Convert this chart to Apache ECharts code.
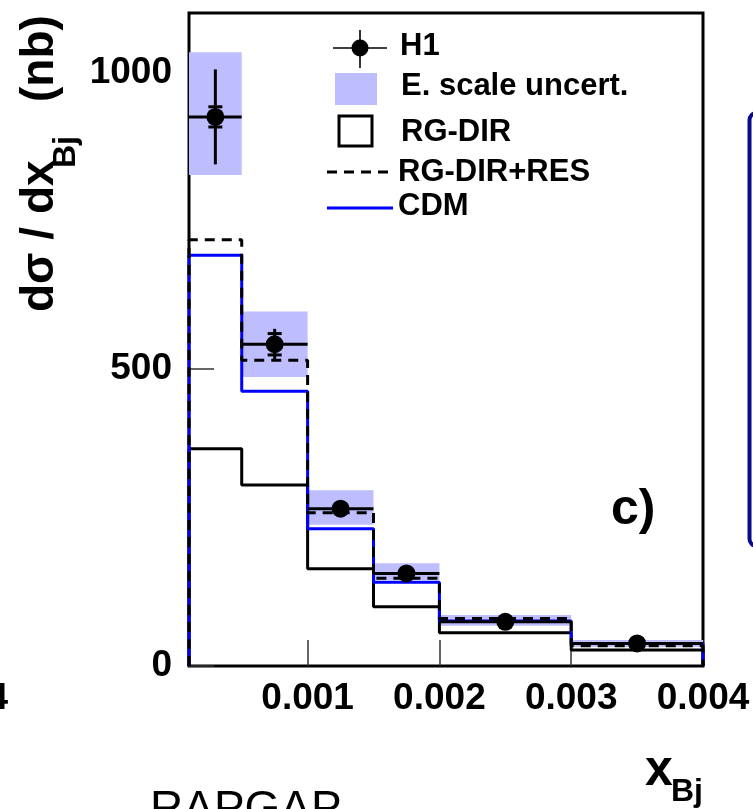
<!DOCTYPE html>
<html><head><meta charset="utf-8">
<script src="https://cdn.jsdelivr.net/npm/echarts@6/dist/echarts.min.js"></script>
<style>html,body{margin:0;padding:0;background:#fff}#c{width:753px;height:809px}</style>
</head><body><div id="c"></div>
<script>
// ---- data ----
const binEdges = [0.0001, 0.0005, 0.001, 0.0015, 0.002, 0.003, 0.004];
const h1X = [0.0003, 0.00075, 0.00125, 0.00175, 0.0025, 0.0035];
const h1Values = [925, 542, 265, 156, 74.5, 38];
const h1TotErr = [80, 26, 12, 8, 5, 4];
const h1StatErr = [17, 18, 6, 4, 3, 2];
const bandLow = [827, 487, 238, 145, 68, 32];
const bandHigh = [1034, 597, 296, 173, 86, 44];
const rgDir = [366, 305, 164, 100, 56, 27];
const rgDirRes = [718, 515, 258, 148, 80, 34];
const cdm = [692, 463, 231, 141, 76, 38];
const xTicks = [0.001, 0.002, 0.003, 0.004];
const yTicks = [0, 500, 1000];
const legendNames = ['H1', 'E. scale uncert.', 'RG-DIR', 'RG-DIR+RES', 'CDM'];

// ---- helpers ----
function steps(vals) {
  const pts = [[binEdges[0], 0]];
  vals.forEach((v, i) => { pts.push([binEdges[i], v]); pts.push([binEdges[i + 1], v]); });
  pts.push([binEdges[binEdges.length - 1], 0]);
  return pts;
}
const bandData = bandLow.map((lo, i) => [binEdges[i], binEdges[i + 1], lo, bandHigh[i]]);
const h1Data = h1Values.map((v, i) => [h1X[i], v, binEdges[i], binEdges[i + 1], h1TotErr[i], h1StatErr[i]]);

const FONT = '"Liberation Sans", Arial, Helvetica, sans-serif';
const BAND = '#bebefe';

const chart = echarts.init(document.getElementById('c'), null, {renderer: 'canvas'});
const lineCommon = {type: 'line', showSymbol: false, symbol: 'none', animation: false, silent: true};

function txt(text, x, y, size, opts) {
  return Object.assign({
    type: 'text', x: x, y: y, silent: true,
    style: Object.assign({text: text, font: (opts && opts.weight || 'bold') + ' ' + size + 'px ' + FONT,
      fill: '#000', textAlign: 'left', textVerticalAlign: 'middle'}, opts && opts.style)
  }, opts && opts.el);
}

const legendY = [46, 86, 132, 172, 206];
const graphics = [
  // legend symbols
  {type: 'line', shape: {x1: 333, y1: 48, x2: 387, y2: 48}, style: {stroke: '#000', lineWidth: 1.6}},
  {type: 'line', shape: {x1: 360, y1: 30, x2: 360, y2: 68}, style: {stroke: '#000', lineWidth: 1.6}},
  {type: 'circle', shape: {cx: 360, cy: 48, r: 8.5}, style: {fill: '#000'}},
  {type: 'rect', shape: {x: 335, y: 73, width: 42, height: 32}, style: {fill: BAND}},
  {type: 'rect', shape: {x: 339, y: 116, width: 33, height: 30}, style: {fill: 'none', stroke: '#000', lineWidth: 3}},
  {type: 'line', shape: {x1: 327, y1: 172, x2: 393, y2: 172}, style: {stroke: '#000', lineWidth: 3, lineDash: [10, 7]}},
  {type: 'line', shape: {x1: 327, y1: 208, x2: 393, y2: 208}, style: {stroke: '#0000ff', lineWidth: 3}},
  // legend texts
  txt(legendNames[0], 400, legendY[0], 31),
  txt(legendNames[1], 401, legendY[1], 31),
  txt(legendNames[2], 401, legendY[2], 31),
  txt(legendNames[3], 398, legendY[3], 31),
  txt(legendNames[4], 398, legendY[4], 31),
  // panel label
  txt('c)', 611, 510, 50),
  // x axis title
  txt('x', 645, 771, 50),
  txt('Bj', 671, 792, 32),
  // y axis title (rotated)
  txt('dσ / dx', 40, 312, 46, {el: {rotation: Math.PI / 2}}),
  txt('Bj', 66, 168, 32, {el: {rotation: Math.PI / 2}}),
  txt('(nb)', 40, 102, 46, {el: {rotation: Math.PI / 2}}),
  // neighbour-panel fragments
  txt('0.004', 8, 699, 37, {style: {textAlign: 'right'}}),
  txt('RAPGAP', 150, 787, 46, {weight: 'normal', style: {textVerticalAlign: 'top'}}),
  // blue box of neighbour panel
  {type: 'rect', shape: {x: 749.5, y: 113, width: 40, height: 433, r: 7}, style: {fill: 'none', stroke: '#0a0a8c', lineWidth: 4}}
];

const option = {
  animation: false,
  backgroundColor: '#fff',
  grid: {left: 189, right: 50, top: 13, bottom: 143, show: true, borderColor: '#000', borderWidth: 3, backgroundColor: 'transparent'},
  xAxis: {
    type: 'value', min: binEdges[0], max: binEdges[binEdges.length - 1],
    axisLine: {show: false},
    splitLine: {show: false},
    axisTick: {show: true, inside: true, length: 26, customValues: xTicks, lineStyle: {color: '#333', width: 1.5}},
    axisLabel: {show: true, customValues: xTicks, margin: 14, color: '#000', fontSize: 37, fontWeight: 'bold', fontFamily: FONT,
      formatter: v => v.toFixed(3)}
  },
  yAxis: {
    type: 'value', min: 0, max: 1100,
    axisLine: {show: false},
    splitLine: {show: false},
    axisTick: {show: true, inside: true, length: 25, customValues: yTicks, lineStyle: {color: '#333', width: 1.5}},
    axisLabel: {show: true, customValues: yTicks, margin: 17, color: '#000', fontSize: 37, fontWeight: 'bold', fontFamily: FONT,
      formatter: v => String(v)}
  },
  series: [
    {
      type: 'custom', z: 1, silent: true, data: bandData, encode: {x: [0, 1], y: [2, 3]},
      renderItem: function (params, api) {
        const p0 = api.coord([api.value(0), api.value(3)]);
        const p1 = api.coord([api.value(1), api.value(2)]);
        return {type: 'rect', shape: {x: p0[0], y: p0[1], width: p1[0] - p0[0], height: p1[1] - p0[1]}, style: {fill: BAND}};
      }
    },
    Object.assign({}, lineCommon, {z: 2, data: steps(rgDir), lineStyle: {color: '#000', width: 3}}),
    Object.assign({}, lineCommon, {z: 3, data: steps(cdm), lineStyle: {color: '#0000ff', width: 3}}),
    Object.assign({}, lineCommon, {z: 4, data: steps(rgDirRes), lineStyle: {color: '#000', width: 3, type: [10, 7]}}),
    {
      type: 'custom', z: 5, silent: true, data: h1Data, encode: {x: [0, 2, 3], y: 1},
      renderItem: function (params, api) {
        const x = api.value(0), y = api.value(1), x0 = api.value(2), x1 = api.value(3), et = api.value(4), es = api.value(5);
        const c = api.coord([x, y]), l = api.coord([x0, y]), r = api.coord([x1, y]);
        const top = api.coord([x, y + et]), bot = api.coord([x, y - et]);
        const st = api.coord([x, y + es]), sb = api.coord([x, y - es]);
        const ls = {stroke: '#000', lineWidth: 3};
        return {type: 'group', children: [
          {type: 'line', shape: {x1: l[0], y1: c[1], x2: r[0], y2: c[1]}, style: ls},
          {type: 'line', shape: {x1: c[0], y1: top[1], x2: c[0], y2: bot[1]}, style: ls},
          {type: 'line', shape: {x1: c[0] - 7, y1: st[1], x2: c[0] + 7, y2: st[1]}, style: ls},
          {type: 'line', shape: {x1: c[0] - 7, y1: sb[1], x2: c[0] + 7, y2: sb[1]}, style: ls},
          {type: 'circle', shape: {cx: c[0], cy: c[1], r: 9}, style: {fill: '#000'}}
        ]};
      }
    }
  ],
  graphic: graphics
};
chart.setOption(option);
</script>
</body></html>
